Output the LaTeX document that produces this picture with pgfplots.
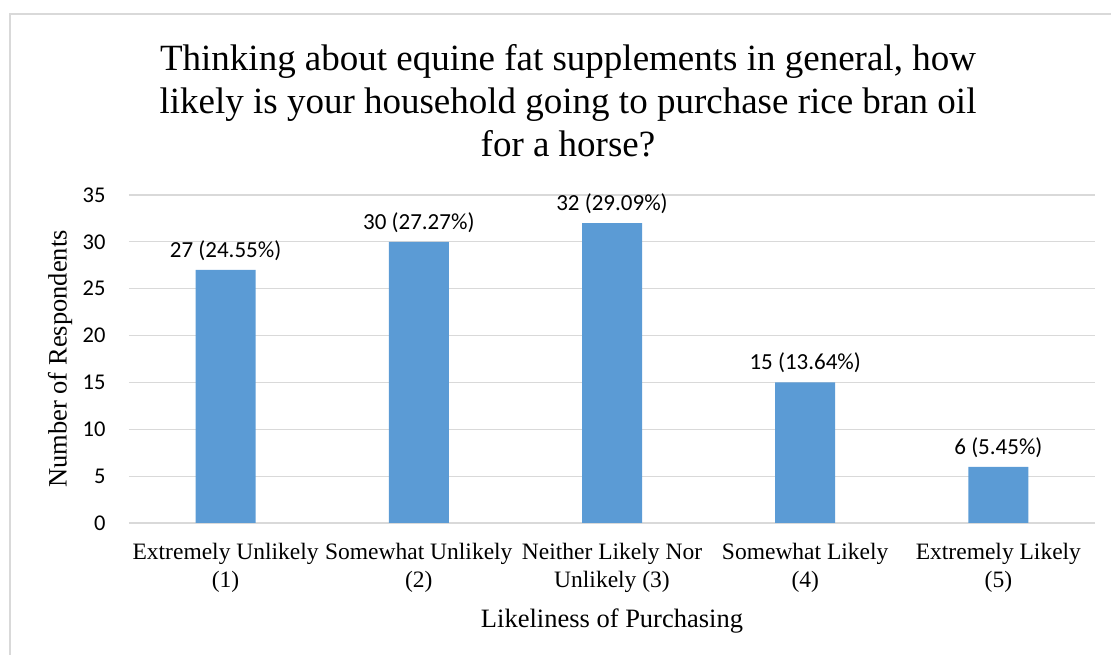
\documentclass[border=0pt]{standalone}
\usepackage{pgfplots}
\pgfplotsset{compat=1.18}
\usepackage{fontspec}
\setmainfont{Liberation Serif}
\newfontfamily\carlito{Carlito}
\definecolor{barblue}{HTML}{5B9BD5}
\definecolor{gridgray}{HTML}{D9D9D9}
\begin{document}
\begin{tikzpicture}
\path[use as bounding box] (0pt,0pt) rectangle (1111pt,655pt);
\draw[gridgray, line width=1.5pt] (10pt,0pt) -- (10pt,641pt) -- (1111pt,641pt);
\node[align=center, font=\fontsize{37}{43}\selectfont] at (568pt,554pt) {Thinking about equine fat supplements in general, how\\likely is your household going to purchase rice bran oil\\for a horse?};
\begin{axis}[
  at={(129pt,132pt)}, anchor=south west,
  scale only axis, width=966pt, height=328pt,
  xmin=-0.5, xmax=4.5, ymin=0, ymax=35,
  ytick={0,5,...,35},
  xtick=data,
  xticklabels={{Extremely Unlikely\\(1)},{Somewhat Unlikely\\(2)},{Neither Likely Nor\\Unlikely (3)},{Somewhat Likely\\(4)},{Extremely Likely\\(5)}},
  axis line style={draw=none},
  major tick length=0pt,
  ymajorgrids, grid style={color=gridgray, line width=1.2pt},
  ybar, bar width=60pt,
  /pgf/number format/assume math mode=true,
  yticklabel style={font=\carlito\fontsize{22.5}{22.5}\selectfont, anchor=east, xshift=-20pt},
  xticklabel style={font=\fontsize{23.5}{28}\selectfont, align=center, anchor=north, yshift=-17pt},
  every axis y label/.style={at={(axis description cs:0,0.5)}, anchor=center, xshift=-69pt, rotate=90, font=\fontsize{26.5}{26.5}\selectfont},
  every axis x label/.style={at={(axis description cs:0.5,0)}, anchor=center, yshift=-98pt, font=\fontsize{26.5}{26.5}\selectfont},
  ylabel={Number of Respondents},
  xlabel={Likeliness of Purchasing},
  nodes near coords,
  point meta=explicit symbolic,
  every node near coord/.append style={font=\carlito\fontsize{23}{23}\selectfont, anchor=south, yshift=6pt},
]
\addplot[fill=barblue, draw=none] coordinates {
  (0,27) [27 (24.55\%)]
  (1,30) [30 (27.27\%)]
  (2,32) [32 (29.09\%)]
  (3,15) [15 (13.64\%)]
  (4,6) [6 (5.45\%)]
};
\end{axis}
\end{tikzpicture}
\end{document}
